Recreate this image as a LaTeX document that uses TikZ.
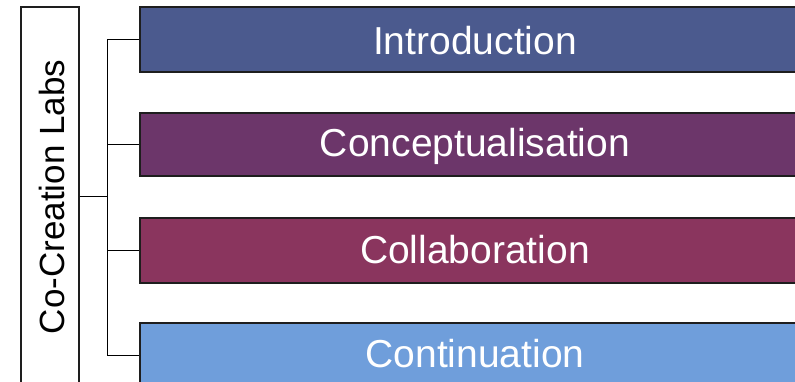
\documentclass[tikz,border=0pt]{standalone}
\usepackage{fontspec}
\setmainfont{Liberation Sans}
\definecolor{cIntro}{HTML}{4B5A8E}
\definecolor{cConc}{HTML}{6C366A}
\definecolor{cColl}{HTML}{8A355E}
\definecolor{cCont}{HTML}{6F9EDB}
\definecolor{cEdge}{HTML}{1E1E1E}
\begin{document}
\begin{tikzpicture}[x=1pt,y=-1pt,
  phase/.style={draw=cEdge, line width=1.2pt, rectangle, inner sep=0pt,
    minimum width=670pt, minimum height=65pt, text=white,
    text height=45pt, text depth=20pt,
    font=\fontsize{39}{40}\selectfont},
  labbox/.style={draw=cEdge, line width=1.2pt, rectangle, inner sep=0pt,
    rotate=90, minimum width=380pt, minimum height=58pt,
    text height=43pt, text depth=15pt, text=black,
    font=\fontsize{35}{36}\selectfont},
  conn/.style={draw=black, line width=1pt}]
\useasboundingbox (0,0) rectangle (795,382);
\clip (0,0) rectangle (795,382);
\node[labbox] (lab) at (50,197) {Co-Creation Labs};
\node[phase, fill=cIntro, text height=48pt, text depth=17pt] (intro) at (475,39.5) {Introduction};
\node[phase, fill=cConc, minimum height=63pt, text height=44pt, text depth=19pt] (conc) at (475,144.5) {Conceptualisation};
\node[phase, fill=cColl] (coll) at (475,250.5) {Collaboration};
\node[phase, fill=cCont, text height=44pt, text depth=21pt] (cont) at (475,355.5) {Continuation};
\coordinate (hub) at (107,197);
\draw[conn] (lab.south) -- (hub);
\draw[conn] (hub) |- (intro.west);
\draw[conn] (hub) |- (conc.west);
\draw[conn] (hub) |- (coll.west);
\draw[conn] (hub) |- (cont.west);
\end{tikzpicture}
\end{document}
